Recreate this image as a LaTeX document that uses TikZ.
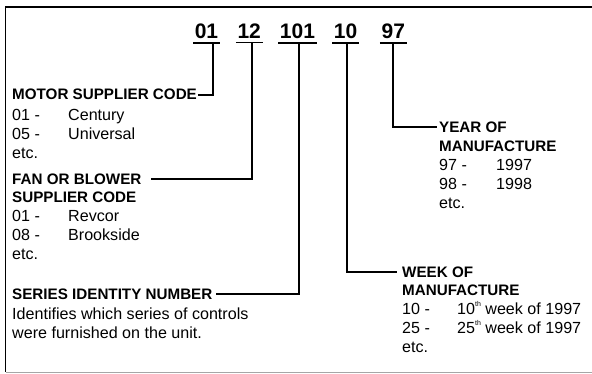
\documentclass[tikz,border=0pt]{standalone}
\usepackage{fontspec}
\setmainfont{Liberation Sans}
\newcommand\codeline[2][56pt]{\makebox[#1][l]{#2}}
\newcommand\headfont{\fontsize{15.2}{19}\selectfont\bfseries}
\newcommand\ordsup[1]{\raisebox{0.5em}{\fontsize{7}{7}\selectfont #1}}
\begin{document}
\begin{tikzpicture}[x=1pt,y=-1pt,
    codenum/.style={font=\fontsize{21}{24}\selectfont\bfseries,inner xsep=1.5pt,inner ysep=0pt,anchor=base},
    heading/.style={font=\headfont,inner sep=0pt,anchor=base west},
    listing/.style={font=\fontsize{16.1}{19}\selectfont,inner sep=0pt,anchor=north west,align=left},
    leader/.style={line width=1.8pt}]
  \useasboundingbox (0,0) rectangle (592,374);
  \draw[line width=1.2pt] (592,7) -- (5.5,7) -- (5.5,372);
  \draw[gray!70,line width=1pt] (5.5,372) -- (592,372);

  \path (206.5,39) node[codenum] (num01) {01}
        (249.2,39) node[codenum] (num12) {12}
        (297.5,39) node[codenum] (num101) {101}
        (345.5,39) node[codenum] (num10) {10}
        (393.3,39) node[codenum] (num97) {97};
  \foreach \n in {num01,num12,num101,num10,num97}
    \draw[line width=1.2pt] ([yshift=-3.5pt]\n.south west) -- ([yshift=-3.5pt]\n.south east);
  \coordinate (tick01) at ([xshift=6.8pt,yshift=-3.5pt]num01.south);
  \coordinate (tick12) at ([xshift=2.5pt,yshift=-3.5pt]num12.south);
  \coordinate (tick101) at ([xshift=1.5pt,yshift=-3.5pt]num101.south);
  \coordinate (tick10) at ([xshift=1.2pt,yshift=-3.5pt]num10.south);
  \coordinate (tick97) at ([xshift=-0.6pt,yshift=-3.5pt]num97.south);

  \path (12,100) node[heading] (motor) {MOTOR SUPPLIER CODE};
  \path (12,109.4) node[listing] (motorlist)
    {\codeline{01 -}Century\\\codeline{05 -}Universal\\etc.};
  \path (12,184.5) node[heading] (fan) {FAN OR BLOWER};
  \path (12,192) node[listing] (fanlist)
    {{\headfont SUPPLIER CODE}\\\codeline{01 -}Revcor\\\codeline{08 -}Brookside\\etc.};
  \path (12,299.5) node[heading] (series) {SERIES IDENTITY NUMBER};
  \path (12,307.5) node[listing] (serieslist)
    {Identifies which series of controls\\were furnished on the unit.};
  \path (439,132.2) node[heading] (year) {YEAR OF};
  \path (439,140.5) node[listing] (yearlist)
    {{\headfont MANUFACTURE}\\\codeline[57pt]{97 -}1997\\\codeline[57pt]{98 -}1998\\etc.};
  \path (402,277.2) node[heading] (week) {WEEK OF};
  \path (402,284.5) node[listing] (weeklist)
    {{\headfont MANUFACTURE}\\\codeline[55pt]{10 -}10\ordsup{th} week of 1997\\
     \codeline[55pt]{25 -}25\ordsup{th} week of 1997\\etc.};

  \draw[leader] (tick01) |- ([xshift=1pt]motor.east);
  \draw[leader] (tick12) |- ([xshift=9pt]fan.east);
  \draw[leader] (tick101) |- ([xshift=3pt]series.east);
  \draw[leader] (tick10) |- ([xshift=-5pt]week.west);
  \draw[leader] (tick97) |- ([xshift=-2pt]year.west);
\end{tikzpicture}
\end{document}
